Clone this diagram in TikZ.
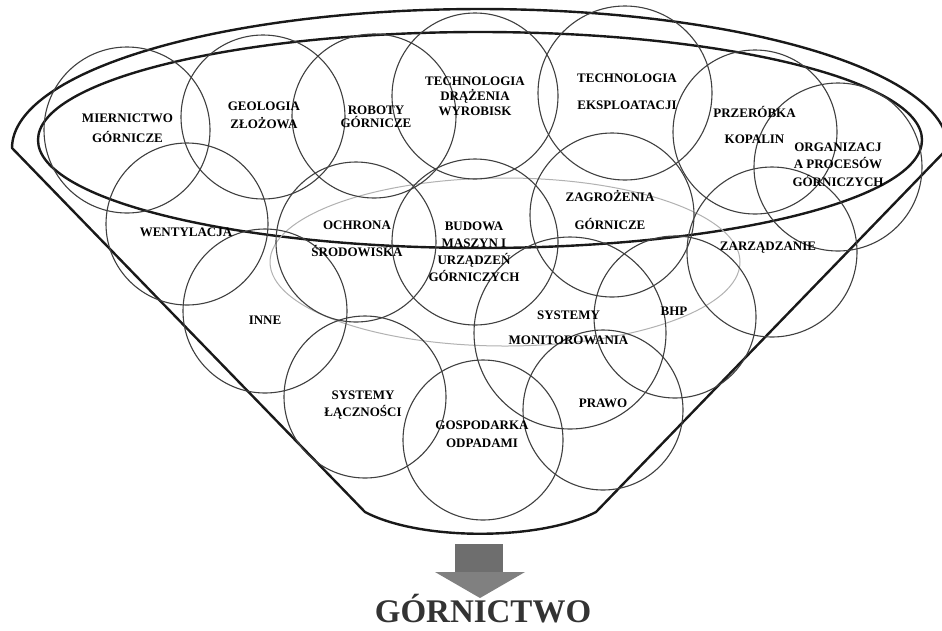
\documentclass[tikz,border=0pt]{standalone}
\usepackage{fontspec}
\setmainfont{Liberation Serif}
\begin{document}
\begin{tikzpicture}[x=1pt,y=-1pt,
  circ/.style={circle, draw=black!75, line width=1.1pt, inner sep=0pt},
  lab/.style={font=\bfseries\fontsize{13}{15}\selectfont, text=black, align=center, inner sep=0pt},
  rim/.style={draw=black!90, line width=2.4pt, line join=round},
  pale/.style={draw=black!30, line width=1pt}]
\useasboundingbox (0,0) rectangle (942,630);
\fill[white] (0,0) rectangle (942,630);

% funnel outline
\draw[rim] (365,512) -- (12,148)
  -- plot[domain=180:0, samples=120, variable=\t] ({480+468*cos(\t)},{148-139*sin(\t)})
  -- (596,512) .. controls (540,541) and (420,541) .. (365,512) -- cycle;
% inner rim
\draw[rim] (480,140) ellipse [x radius=442, y radius=108];
% pale ellipse
\draw[pale] (505,262) ellipse [x radius=235, y radius=84];

% circles
\node[circ, minimum size=166pt] (cmier) at (127,130) {};
\node[circ, minimum size=164pt] (cgeo) at (263,117) {};
\node[circ, minimum size=164pt] (crob) at (374,116) {};
\node[circ, minimum size=166pt] (cdraz) at (475,96) {};
\node[circ, minimum size=174pt] (ceksp) at (625,93) {};
\node[circ, minimum size=164pt] (cprzer) at (755,132) {};
\node[circ, minimum size=168pt] (corg) at (838,167) {};
\node[circ, minimum size=162pt] (cwent) at (187,224) {};
\node[circ, minimum size=160pt] (cochr) at (356,242) {};
\node[circ, minimum size=164pt] (cinne) at (265,311) {};
\node[circ, minimum size=166pt] (cbud) at (475,242) {};
\node[circ, minimum size=164pt] (czagr) at (612,215) {};
\node[circ, minimum size=170pt] (czarz) at (772,252) {};
\node[circ, minimum size=192pt] (cmon) at (570,333) {};
\node[circ, minimum size=162pt] (cbhp) at (675,317) {};
\node[circ, minimum size=160pt] (cpraw) at (603,410) {};
\node[circ, minimum size=162pt] (clacz) at (365,397) {};
\node[circ, minimum size=160pt] (cgosp) at (483,440) {};

% labels
\node[lab] (tmier) at (127.5,128) {MIERNICTWO\\[5pt]GÓRNICZE};
\node[lab] (tgeo) at (264,115) {GEOLOGIA\\[3pt]ZŁOŻOWA};
\node[lab] (trob) at (376,116.5) {ROBOTY\\[-2pt]GÓRNICZE};
\node[lab] (tdraz) at (475,96) {TECHNOLOGIA\\DRĄŻENIA\\WYROBISK};
\node[lab] (teksp) at (627,91.5) {TECHNOLOGIA\\[12pt]EKSPLOATACJI};
\node[lab] (tprzer) at (754.5,125) {PRZERÓBKA\\[11pt]KOPALIN};
\node[lab] (torg) at (838,164.5) {ORGANIZACJ\\[2.5pt]A PROCESÓW\\[2.5pt]GÓRNICZYCH};
\node[lab] (tzagr) at (610,210) {ZAGROŻENIA\\[13pt]GÓRNICZE};
\node[lab] (twent) at (186,232) {WENTYLACJA};
\node[lab] (tochr) at (357,238.5) {OCHRONA\\[12pt]ŚRODOWISKA};
\node[lab] (tbud) at (474,251.5) {BUDOWA\\[2pt]MASZYN I\\[2pt]URZĄDZEŃ\\[2pt]GÓRNICZYCH};
\node[lab] (tinne) at (265,320) {INNE};
\node[lab] (tmon) at (568.5,327.5) {SYSTEMY\\[10pt]MONITOROWANIA};
\node[lab] (tbhp) at (674,311) {BHP};
\node[lab] (tzarz) at (768,248) {ZARZĄDZANIE};
\node[lab] (tpraw) at (603,403) {PRAWO};
\node[lab] (tlacz) at (363,405.5) {SYSTEMY\\[2pt]ŁĄCZNOŚCI};
\node[lab] (tgosp) at (482,434) {GOSPODARKA\\[3pt]ODPADAMI};

% arrow
\fill[black!57] (455,544) rectangle (503,573);
\fill[black!50] (435,572) -- (525,572) -- (480,598) -- cycle;

% title
\node[font=\bfseries\fontsize{33}{33}\selectfont, text=black!80, inner sep=0pt, anchor=base] (title) at (483,622) {GÓRNICTWO};
\end{tikzpicture}
\end{document}
